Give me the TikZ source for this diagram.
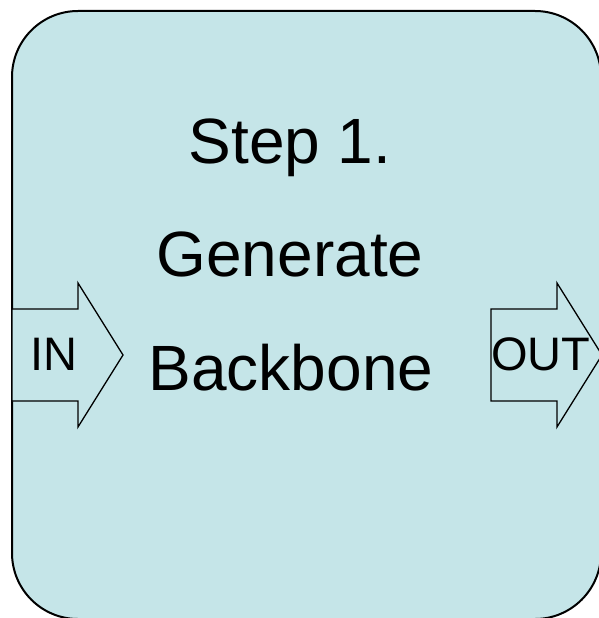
\documentclass[tikz,border=0pt]{standalone}
\usepackage{fontspec}
\setmainfont{Liberation Sans}
\definecolor{boxfill}{RGB}{197,229,232}
\begin{document}
\begin{tikzpicture}[x=1pt,y=-1pt,
  panel/.style={draw=black, line width=2pt, fill=boxfill, rounded corners=66pt},
  arrowshape/.style={draw=black, line width=1.3pt, fill=boxfill, line join=miter},
  bigtext/.style={font=\fontsize{64}{64}\selectfont, anchor=base, inner sep=0pt},
  smalltext/.style={font=\fontsize{47}{47}\selectfont, anchor=base, inner sep=0pt}]
\useasboundingbox (0,0) rectangle (599,618);
\clip (0,0) rectangle (599,618);
\draw[panel] (12,11) rectangle (601,619);
\draw[arrowshape] (12,309) -- (78,309) -- (78,283) -- (123,355) -- (78,427) -- (78,401) -- (12,401) -- cycle;
\draw[arrowshape] (491,309) -- (557,309) -- (557,283) -- (602,355) -- (557,427) -- (557,401) -- (491,401) -- cycle;
\node[bigtext] (step) at (290,163) {Step 1.};
\node[bigtext] (gen) at (290,276) {Generate};
\node[bigtext] (bb) at (291,390) {Backbone};
\node[smalltext] (in) at (54,370) {IN};
\node[smalltext] (out) at (541,370) {OUT};
\end{tikzpicture}
\end{document}
